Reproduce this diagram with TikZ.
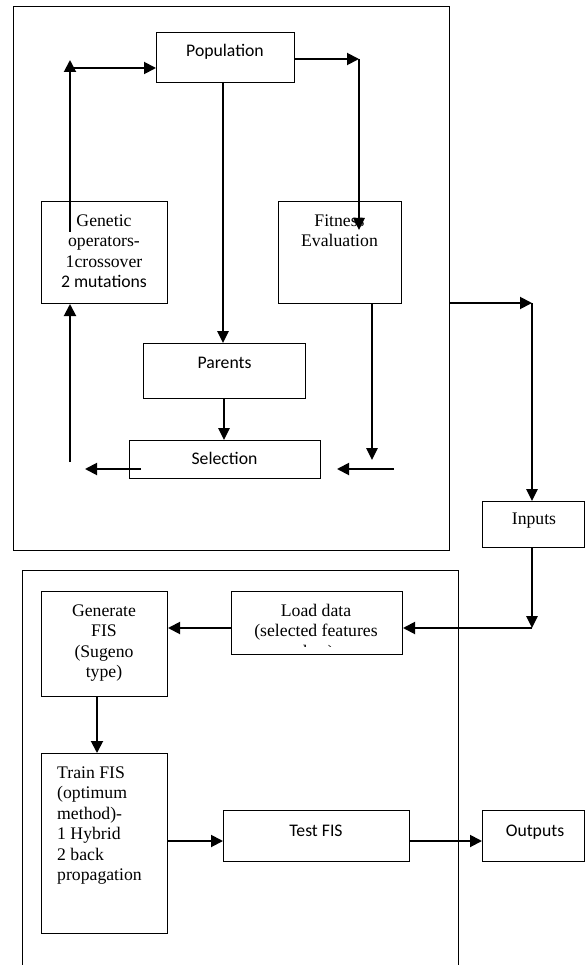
\documentclass[tikz,border=0pt]{standalone}
\usepackage{fontspec}
\setmainfont{Liberation Serif}
\newfontfamily\calib{Carlito}
\usetikzlibrary{arrows.meta}
\begin{document}
\begin{tikzpicture}[x=1pt,y=-1pt,
  box/.style={draw, line width=1pt, inner sep=0pt, anchor=north west},
  serif/.style={font=\fontsize{17.7}{20.5}\selectfont, inner sep=0pt},
  sans/.style={font=\fontsize{17.7}{20.5}\selectfont\calib, inner sep=0pt},
  arr/.style={line width=1.9pt, -{Triangle[length=12pt,width=12pt]}},
  thin arr/.style={line width=1.4pt, -{Triangle[length=12pt,width=11.5pt]}},
  frame/.style={line width=1pt}]
\useasboundingbox (0,0) rectangle (585,965);

% outer frames
\node[box, minimum width=436.5, minimum height=544] (ga) at (12.7,6) {};
\coordinate (fb1) at (22,966);
\coordinate (fb2) at (22,570);
\coordinate (fb3) at (458,570);
\coordinate (fb4) at (458,966);
\draw[frame] (fb1) -- (fb2) -- (fb3) -- (fb4);

% boxes
\node[box, minimum width=138, minimum height=50] (pop) at (156,32) {};
\node[box, minimum width=126, minimum height=102] (gen) at (41,201) {};
\node[box, minimum width=123, minimum height=102] (fit) at (278,201) {};
\node[box, minimum width=162, minimum height=55] (par) at (143,343) {};
\node[box, minimum width=191, minimum height=38] (sel) at (129,440) {};
\node[box, minimum width=102, minimum height=46] (inp) at (482,501) {};
\node[box, minimum width=126, minimum height=105] (gfis) at (41,591) {};
\node[box, minimum width=171, minimum height=63] (load) at (231,591) {};
\node[box, minimum width=126, minimum height=180] (train) at (41,753) {};
\node[box, minimum width=186, minimum height=51] (test) at (223,810) {};
\node[box, minimum width=102, minimum height=51] (outp) at (482,810) {};

% texts
\node[sans, anchor=base] (popt) at (225,57) {Population};
\node[serif, anchor=north, align=center] (gent) at (104,213) {\rule{0pt}{13pt}Genetic\\operators-\\1crossover\\{\calib 2 mutations}};
\node[serif, anchor=north, align=center] (fitt) at (339.5,213) {\rule{0pt}{13pt}Fitness\\Evaluation};
\node[sans, anchor=base] (part) at (224.5,368) {Parents};
\node[sans, anchor=base] (selt) at (224.5,464) {Selection};
\node[serif, anchor=base] (inpt) at (534,524) {Inputs};
\node[serif, anchor=north, align=center] (gfist) at (104,603) {\rule{0pt}{13pt}Generate\\FIS\\(Sugeno\\type)};
\node[serif, anchor=north, align=center] (loadt) at (316,603) {\rule{0pt}{13pt}Load data\\(selected features};
\begin{scope}
\clip (232,640) rectangle (401,646.5);
\node[serif, anchor=base] (loadc) at (316,657) {data)};
\end{scope}
\node[serif, anchor=north west, align=left] (traint) at (57,765) {\rule{0pt}{13pt}Train FIS\\(optimum\\method)-\\1 Hybrid\\2 back\\propagation};
\node[sans, anchor=base] (testt) at (316,836) {Test FIS};
\node[sans, anchor=base] (outt) at (535,836) {Outputs};

% connectors - GA loop
\coordinate (l0) at (70,462);
\coordinate (l1) at (70,232);
\coordinate (l2) at (70,60);
\coordinate (l3) at (70,68);
\draw[arr] (l0) -- (l0 |- gen.south);
\draw[arr] (l1) -- (l2);
\draw[arr] (l3) -- (l3 -| pop.west);

\coordinate (r0) at (294,59);
\coordinate (r1) at (359,59);
\coordinate (r2) at (359,230);
\draw[arr] (r0) -- (r1);
\draw[thin arr] (r1) -- (r2);

\coordinate (p0) at (223,82);
\draw[thin arr] (p0) -- (p0 |- par.north);
\coordinate (q0) at (224,398);
\draw[thin arr] (q0) -- (q0 |- sel.north);

\coordinate (f0) at (372,303);
\coordinate (f1) at (372,460);
\draw[thin arr] (f0) -- (f1);
\coordinate (s0) at (394,469);
\coordinate (s1) at (337,469);
\draw[arr] (s0) -- (s1);
\coordinate (s2) at (141,469);
\coordinate (s3) at (85,469);
\draw[arr] (s2) -- (s3);

% to inputs
\coordinate (i0) at (449,303);
\coordinate (i1) at (532,303);
\draw[arr] (i0) -- (i1);
\draw[thin arr] (i1) -- (i1 |- inp.north);
\coordinate (i2) at (532,547);
\coordinate (i3) at (532,628);
\draw[thin arr] (i2) -- (i3);
\draw[arr] (i3) -- (i3 -| load.east);

% FIS part
\coordinate (g0) at (231,628);
\draw[arr] (g0) -- (g0 -| gfis.east);
\coordinate (g1) at (97,696);
\draw[arr] (g1) -- (g1 |- train.north);
\coordinate (t0) at (167,841);
\draw[arr] (t0) -- (t0 -| test.west);
\coordinate (t1) at (409,841);
\draw[arr] (t1) -- (t1 -| outp.west);
\end{tikzpicture}
\end{document}
